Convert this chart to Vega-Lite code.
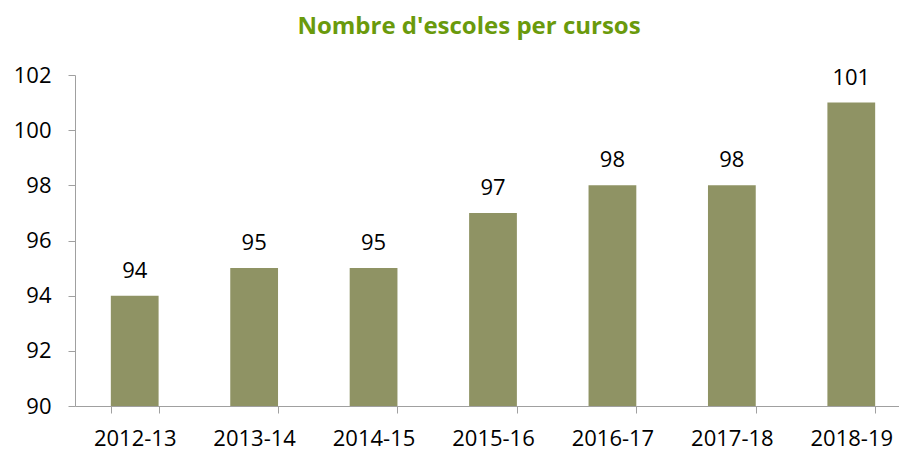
{
  "$schema": "https://vega.github.io/schema/vega-lite/v6.json",
  "autosize": {"type": "none"},
  "padding": {"left": 75, "top": 75, "right": 0, "bottom": 44},
  "width": 836,
  "height": 331,
  "background": "white",
  "title": {
    "text": "Nombre d'escoles per cursos",
    "font": "Open Sans",
    "fontSize": 24,
    "fontWeight": "bold",
    "color": "#6a9a0c",
    "anchor": "middle",
    "dx": -24,
    "offset": 25
  },
  "data": {
    "values": [
      {"curs": "2012-13", "escoles": 94},
      {"curs": "2013-14", "escoles": 95},
      {"curs": "2014-15", "escoles": 95},
      {"curs": "2015-16", "escoles": 97},
      {"curs": "2016-17", "escoles": 98},
      {"curs": "2017-18", "escoles": 98},
      {"curs": "2018-19", "escoles": 101}
    ]
  },
  "encoding": {
    "x": {
      "field": "curs",
      "type": "ordinal",
      "sort": null,
      "scale": {"paddingInner": 0.6, "paddingOuter": 0.3},
      "axis": {
        "title": null,
        "labelAngle": 0,
        "labelFont": "Open Sans",
        "labelFontSize": 22,
        "labelColor": "#000000",
        "labelPadding": 15,
        "domainColor": "#a0a0a0",
        "tickColor": "#a0a0a0",
        "tickBand": "extent",
        "tickSize": 7,
        "grid": false
      }
    },
    "y": {
      "field": "escoles",
      "type": "quantitative",
      "scale": {"domain": [90, 102], "zero": false, "nice": false},
      "axis": {
        "title": null,
        "values": [90, 92, 94, 96, 98, 100, 102],
        "labelFont": "Open Sans",
        "labelFontSize": 22,
        "labelColor": "#000000",
        "labelPadding": 17,
        "domainColor": "#a0a0a0",
        "tickColor": "#a0a0a0",
        "tickSize": 7,
        "grid": false
      }
    }
  },
  "layer": [
    {
      "mark": {"type": "bar", "color": "#8f9364"},
      "encoding": {"y2": {"datum": 90}}
    },
    {
      "mark": {"type": "text", "baseline": "bottom", "dy": -13, "font": "Open Sans", "fontSize": 22, "color": "#000000"},
      "encoding": {"text": {"field": "escoles", "type": "quantitative"}}
    }
  ],
  "config": {"view": {"stroke": null}}
}
